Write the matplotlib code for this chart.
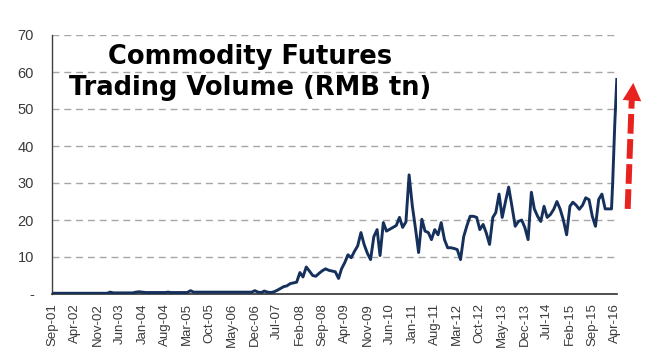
import matplotlib
matplotlib.use('Agg')
import matplotlib.pyplot as plt
import pandas as pd

# monthly commodity futures trading volume, RMB tn (Sep-01 .. Mar-16)
months = pd.date_range('2001-09-01', '2016-03-01', freq='MS')
volume = [
    # 2001-09 .. 2002-12
    0.2, 0.2, 0.2, 0.2, 0.2, 0.2, 0.2, 0.2, 0.2, 0.2, 0.2, 0.2, 0.2, 0.2, 0.2, 0.2,
    # 2003
    0.2, 0.2, 0.5, 0.3, 0.3, 0.3, 0.3, 0.3, 0.3, 0.3, 0.5, 0.6,
    # 2004
    0.5, 0.4, 0.4, 0.4, 0.4, 0.4, 0.4, 0.4, 0.5, 0.4, 0.4, 0.4,
    # 2005
    0.4, 0.4, 0.4, 0.9, 0.5, 0.5, 0.5, 0.5, 0.5, 0.5, 0.5, 0.5,
    # 2006
    0.5, 0.5, 0.5, 0.5, 0.5, 0.5, 0.5, 0.5, 0.5, 0.5, 0.5, 0.9,
    # 2007
    0.5, 0.4, 0.8, 0.5, 0.4, 0.6, 1.0, 1.5, 2.0, 2.2, 2.8, 3.0,
    # 2008
    3.2, 5.8, 4.6, 7.3, 6.2, 5.0, 4.8, 5.6, 6.3, 6.8, 6.4, 6.2,
    # 2009
    6.0, 4.2, 6.8, 8.5, 10.6, 9.8, 11.5, 13.0, 16.6, 13.4, 11.0, 9.3,
    # 2010
    15.5, 17.4, 10.4, 19.3, 17.0, 17.5, 18.0, 18.5, 20.7, 18.0, 19.5, 32.2,
    # 2011
    23.7, 17.4, 11.2, 20.2, 17.0, 16.6, 14.7, 17.4, 16.0, 19.3, 14.7, 12.5,
    # 2012
    12.5, 12.3, 12.0, 9.3, 15.5, 18.5, 21.0, 21.0, 20.7, 17.4, 18.8, 16.5,
    # 2013
    13.4, 20.7, 22.0, 27.0, 20.7, 25.0, 28.9, 23.7, 18.3, 19.6, 20.0, 18.0,
    # 2014
    14.7, 27.5, 23.0, 21.0, 19.6, 23.7, 20.7, 21.5, 22.9, 25.0, 22.9, 20.0,
    # 2015
    16.0, 23.7, 24.8, 24.0, 22.9, 24.0, 26.0, 25.5, 21.0, 18.3, 25.6, 27.0,
    # 2016-01 .. 2016-03
    23.0, 23.0, 23.0,
]
# final surge, spring 2016
tail_dates = pd.to_datetime(['2016-03-12', '2016-04-01', '2016-04-20'])
tail_volume = [30.0, 46.0, 58.0]

dates = list(months) + list(tail_dates)
values = volume + tail_volume

tick_dates = pd.date_range('2001-09-01', periods=26, freq='7MS')
tick_labels = [d.strftime('%b-%y') for d in tick_dates]
y_ticks = [0, 10, 20, 30, 40, 50, 60, 70]
y_labels = ['-'] + [str(v) for v in y_ticks[1:]]

plt.rcParams['font.family'] = ['Liberation Sans', 'DejaVu Sans']

fig = plt.figure(figsize=(6.54, 3.6), dpi=100)
ax = fig.add_axes([52/654, 1-294/360, 565/654, 259/360])

ax.plot(dates, values, color='#16305c', lw=2.1, solid_joinstyle='round', zorder=3)

ax.set_ylim(0, 70)
ax.set_xlim(pd.Timestamp('2001-08-28'), pd.Timestamp('2016-04-22'))
ax.set_yticks(y_ticks)
ax.set_yticklabels(y_labels)
ax.set_xticks(tick_dates)
ax.set_xticklabels(tick_labels, rotation=90)
ax.tick_params(axis='both', length=0, labelcolor='#3a3a3a')
ax.tick_params(axis='y', pad=13, labelsize=10.5)
ax.tick_params(axis='x', pad=6.5, labelsize=9.5)

for v in y_ticks[1:]:
    ax.axhline(v, color='#a6a6a6', lw=1.0, ls=(0, (5, 3.5)), zorder=1)

ax.spines['top'].set_visible(False)
ax.spines['right'].set_visible(False)
ax.spines['left'].set_color('#404040')
ax.spines['bottom'].set_color('#303030')
ax.spines['left'].set_linewidth(1.0)
ax.spines['bottom'].set_linewidth(1.2)

fig.text(250/654, 1-44/360, 'Commodity Futures\nTrading Volume (RMB tn)',
         ha='center', va='top', fontsize=18.5, fontweight='bold',
         family='DejaVu Sans', linespacing=1.25)

# red dashed arrow pointing up at the surge
shaft_x0, shaft_y0 = pd.Timestamp('2016-08-01'), 23.0
shaft_x1, shaft_y1 = pd.Timestamp('2016-09-10'), 53.5
tip_x, tip_y = pd.Timestamp('2016-09-25'), 57.8
ax.plot([shaft_x0, shaft_x1], [shaft_y0, shaft_y1], color='#e8221e', lw=4.3,
        ls=(0, (3.3, 0.9)), clip_on=False, solid_capstyle='butt')
ax.annotate('', xy=(tip_x, tip_y), xytext=(shaft_x1, shaft_y1 - 1.5),
            arrowprops=dict(arrowstyle='-|>,head_length=0.8,head_width=0.42',
                            color='#e8221e', lw=0, mutation_scale=16),
            annotation_clip=False)

fig.savefig('out.png', dpi=100)
